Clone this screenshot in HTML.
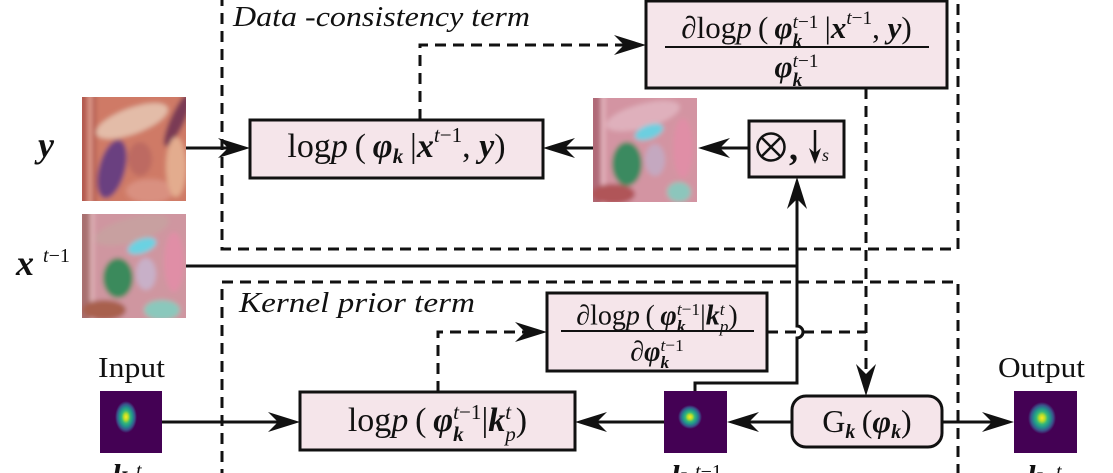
<!DOCTYPE html>
<html><head><meta charset="utf-8">
<style>
body{margin:0;width:1113px;height:473px;position:relative;overflow:hidden;background:#fff;font-family:"Liberation Serif","DejaVu Serif",serif;color:#111;}
svg{position:absolute;left:0;top:0;}
.L{position:absolute;text-align:center;line-height:1;white-space:nowrap;}
.bi{font-weight:bold;font-style:italic;}
.it{font-style:italic;}
.sp{font-size:.62em;position:relative;top:-.72em;}
.sb{font-size:.62em;position:relative;top:.3em;}
.ss{display:inline-block;font-size:.62em;line-height:1;position:relative;top:.45em;text-align:left;}
.ss>span{display:block;}
</style></head>
<body>
<svg width="1113" height="473" viewBox="0 0 1113 473">
<defs>
<filter id="bl" x="-20%" y="-20%" width="140%" height="140%"><feGaussianBlur stdDeviation="2.5"/></filter>
<clipPath id="c1"><rect x="0" y="0" width="104" height="104"/></clipPath>
<radialGradient id="vir" cx="50%" cy="50%" r="50%">
<stop offset="0" stop-color="#fde725"/>
<stop offset="0.2" stop-color="#b5de2b"/>
<stop offset="0.4" stop-color="#35b779"/>
<stop offset="0.6" stop-color="#21918c"/>
<stop offset="0.8" stop-color="#3b528b"/>
<stop offset="1" stop-color="#440154"/>
</radialGradient>
</defs>

<!-- Lena y -->
<g transform="translate(82,97)">
<g clip-path="url(#c1)"><g filter="url(#bl)">
<rect x="-10" y="-10" width="124" height="124" fill="#cf7a66"/>
<rect x="-10" y="-10" width="24" height="124" fill="#b45a50"/>
<rect x="6" y="-10" width="4" height="124" fill="#e2a090"/>
<ellipse cx="50" cy="24" rx="38" ry="13" fill="#e3bca8" transform="rotate(-20 50 24)"/>
<ellipse cx="30" cy="72" rx="13" ry="30" fill="#6a4080" transform="rotate(15 30 72)"/>
<ellipse cx="58" cy="62" rx="12" ry="17" fill="#bd6a62"/>
<ellipse cx="68" cy="94" rx="24" ry="12" fill="#d99080"/>
<ellipse cx="96" cy="22" rx="7" ry="30" fill="#7a3a55" transform="rotate(25 96 22)"/>
<ellipse cx="94" cy="70" rx="10" ry="30" fill="#e3ac8e"/>
</g></g>
</g>
<!-- Lena 2 -->
<g transform="translate(593,98)">
<g clip-path="url(#c1)"><g filter="url(#bl)">
<rect x="-10" y="-10" width="124" height="124" fill="#d394a2"/>
<rect x="-10" y="-10" width="22" height="124" fill="#b06a78"/>
<rect x="8" y="-10" width="4" height="124" fill="#e6b6c0"/>
<ellipse cx="50" cy="18" rx="38" ry="12" fill="#dfb0bc" transform="rotate(-15 50 18)"/>
<ellipse cx="56" cy="34" rx="15" ry="7" fill="#6ccfe0" transform="rotate(-20 56 34)"/>
<ellipse cx="34" cy="66" rx="15" ry="22" fill="#3a8a60"/>
<ellipse cx="62" cy="62" rx="10" ry="16" fill="#c4a8c0"/>
<ellipse cx="20" cy="96" rx="22" ry="10" fill="#b05458"/>
<ellipse cx="90" cy="50" rx="10" ry="30" fill="#e08ea6"/>
<ellipse cx="86" cy="94" rx="12" ry="10" fill="#8cc6bc"/>
</g></g>
</g>
<!-- Lena x^{t-1} -->
<g transform="translate(82,214)">
<g clip-path="url(#c1)"><g filter="url(#bl)">
<rect x="-10" y="-10" width="124" height="124" fill="#cf96a0"/>
<rect x="-10" y="-10" width="22" height="124" fill="#a87070"/>
<rect x="8" y="-10" width="4" height="124" fill="#e0b4b8"/>
<ellipse cx="50" cy="16" rx="38" ry="12" fill="#c8a0a0" transform="rotate(-15 50 16)"/>
<ellipse cx="60" cy="32" rx="15" ry="7" fill="#6ad2e2" transform="rotate(-20 60 32)"/>
<ellipse cx="36" cy="64" rx="15" ry="20" fill="#3a8a5c"/>
<ellipse cx="64" cy="60" rx="10" ry="16" fill="#c8b0c8"/>
<ellipse cx="22" cy="96" rx="22" ry="10" fill="#a8604e"/>
<ellipse cx="92" cy="48" rx="10" ry="30" fill="#e08ea6"/>
<ellipse cx="80" cy="96" rx="18" ry="10" fill="#8ac8bc"/>
</g></g>
</g>

<!-- kernels -->
<rect x="100" y="391" width="62" height="62" fill="#440154"/>
<ellipse cx="126" cy="417" rx="11" ry="16" fill="url(#vir)"/>
<rect x="664" y="391" width="63" height="62" fill="#440154"/>
<ellipse cx="690" cy="417" rx="12" ry="12" fill="url(#vir)"/>
<rect x="1014" y="391" width="63" height="62" fill="#440154"/>
<ellipse cx="1042" cy="418" rx="14" ry="16" fill="url(#vir)"/>

<!-- dashed group boxes -->
<g fill="none" stroke="#111" stroke-width="3" stroke-dasharray="11 7">
<path d="M222,-5 V249 H958 V-5"/>
<path d="M222,480 V282 H958 V480"/>
<path d="M420,120 V45 H625"/>
<path d="M866,88 V375"/>
<path d="M438,392 V332 H527"/>
<path d="M767,332 H866"/>
</g>

<!-- boxes -->
<g fill="#f5e5ea" stroke="#111" stroke-width="3">
<rect x="646" y="1" width="301" height="87"/>
<rect x="250" y="120" width="293" height="58"/>
<rect x="749" y="121" width="95" height="56"/>
<rect x="547" y="293" width="220" height="78"/>
<rect x="300" y="392" width="275" height="58"/>
<rect x="792" y="396" width="150" height="51" rx="14" ry="14"/>
</g>
<!-- fraction lines -->
<g stroke="#111" stroke-width="2">
<line x1="665" y1="47" x2="929" y2="47"/>
<line x1="561" y1="331" x2="754" y2="331"/>
</g>

<!-- solid connectors -->
<g fill="none" stroke="#111" stroke-width="3">
<path d="M186,148 H230"/>
<path d="M749,148 H718"/>
<path d="M593,148 H563"/>
<path d="M186,266 H797"/>
<path d="M695,391 V383 H797 V338 A6,6 0 0 0 797,326 V197"/>
<path d="M162,422 H280"/>
<path d="M792,422 H747"/>
<path d="M664,422 H595"/>
<path d="M942,422 H994"/>
</g>

<!-- arrowheads -->
<g fill="#111">
<path d="M250,148 L218,138 L228,148 L218,158 Z"/>
<path d="M698,148 L730,138 L720,148 L730,158 Z"/>
<path d="M543,148 L575,138 L565,148 L575,158 Z"/>
<path d="M797,177 L787,209 L797,199 L807,209 Z"/>
<path d="M646,45 L614,35 L624,45 L614,55 Z"/>
<path d="M866,396 L856,364 L866,374 L876,364 Z"/>
<path d="M547,332 L515,322 L525,332 L515,342 Z"/>
<path d="M300,422 L268,412 L278,422 L268,432 Z"/>
<path d="M727,422 L759,412 L749,422 L759,432 Z"/>
<path d="M575,422 L607,412 L597,422 L607,432 Z"/>
<path d="M1014,422 L982,412 L992,422 L982,432 Z"/>
</g>

<!-- otimes , downsample -->
<g fill="none" stroke="#111" stroke-width="2.5">
<circle cx="771" cy="147" r="13.5"/>
<line x1="761.5" y1="137.5" x2="780.5" y2="156.5"/>
<line x1="780.5" y1="137.5" x2="761.5" y2="156.5"/>
<line x1="815" y1="130" x2="815" y2="156"/>
</g>
<path d="M815,164 L809,148 L815,153 L821,148 Z" fill="#111"/>
<text x="789" y="160" font-family="Liberation Serif" font-weight="bold" font-size="36" fill="#111">,</text>
<text x="822" y="161" font-family="Liberation Serif" font-style="italic" font-size="18" fill="#111">s</text>

<!-- labels -->
<text x="233" y="26" font-family="Liberation Serif" font-style="italic" font-size="29" textLength="297" lengthAdjust="spacingAndGlyphs" fill="#111">Data -consistency term</text>
<text x="239" y="312" font-family="Liberation Serif" font-style="italic" font-size="29" textLength="236" lengthAdjust="spacingAndGlyphs" fill="#111">Kernel prior term</text>
<text x="98" y="377" font-family="Liberation Serif" font-size="28" textLength="67" lengthAdjust="spacingAndGlyphs" fill="#111">Input</text>
<text x="998" y="377" font-family="Liberation Serif" font-size="28" textLength="87" lengthAdjust="spacingAndGlyphs" fill="#111">Output</text>
<text x="38" y="157" font-family="Liberation Serif" font-weight="bold" font-style="italic" font-size="36" fill="#111">y</text>
<text x="16" y="275" font-family="Liberation Serif" font-weight="bold" font-style="italic" font-size="36" fill="#111">x</text>
<text x="43" y="262" font-family="Liberation Serif" font-size="20" fill="#111"><tspan font-style="italic">t</tspan>−1</text>

<!-- bottom cut labels -->
<text x="112" y="486" font-family="Liberation Serif" font-weight="bold" font-style="italic" font-size="32" fill="#111">k</text>
<text x="136" y="477" font-family="Liberation Serif" font-style="italic" font-size="20" fill="#111">t</text>
<text x="671" y="487" font-family="Liberation Serif" font-weight="bold" font-style="italic" font-size="32" fill="#111">k</text>
<text x="695" y="478" font-family="Liberation Serif" font-size="20" fill="#111"><tspan font-style="italic">t</tspan>−1</text>
<text x="1027" y="487" font-family="Liberation Serif" font-weight="bold" font-style="italic" font-size="32" fill="#111">k</text>
<text x="1056" y="478" font-family="Liberation Serif" font-style="italic" font-size="20" fill="#111">t</text>
</svg>

<!-- math text -->
<div class="L" style="left:250px;top:130px;width:293px;font-size:34px">log<span class="it">p</span>&thinsp;(&thinsp;<span class="bi">φ</span><span class="sb bi">k</span>&thinsp;|<span class="bi">x</span><span class="sp"><span class="it">t</span>−1</span>, <span class="bi">y</span>)</div>

<div class="L" style="left:646px;top:4px;width:301px;font-size:31px">∂log<span class="it">p</span>&thinsp;(&thinsp;<span class="bi">φ</span><span class="ss"><span><span class="it">t</span>−1</span><span class="bi">k</span></span>&thinsp;|<span class="bi">x</span><span class="sp"><span class="it">t</span>−1</span>, <span class="bi">y</span>)</div>
<div class="L" style="left:646px;top:43px;width:301px;font-size:31px"><span class="bi">φ</span><span class="ss"><span><span class="it">t</span>−1</span><span class="bi">k</span></span></div>

<div class="L" style="left:547px;top:293px;width:220px;font-size:28px">∂log<span class="it">p</span>&thinsp;(&thinsp;<span class="bi">φ</span><span class="ss"><span><span class="it">t</span>−1</span><span class="bi">k</span></span>|<span class="bi">k</span><span class="ss"><span class="it">t</span><span class="it">p</span></span>)</div>
<div class="L" style="left:547px;top:329px;width:220px;font-size:28px">∂<span class="bi">φ</span><span class="ss"><span><span class="it">t</span>−1</span><span class="bi">k</span></span></div>

<div class="L" style="left:300px;top:393px;width:275px;font-size:34px">log<span class="it">p</span>&thinsp;(&thinsp;<span class="bi">φ</span><span class="ss"><span><span class="it">t</span>−1</span><span class="bi">k</span></span>|<span class="bi">k</span><span class="ss"><span class="it">t</span><span class="it">p</span></span>)</div>

<div class="L" style="left:792px;top:405px;width:150px;font-size:32px">G<span class="sb bi">k</span>&thinsp;(<span class="bi">φ</span><span class="sb bi">k</span>)</div>
</body></html>
